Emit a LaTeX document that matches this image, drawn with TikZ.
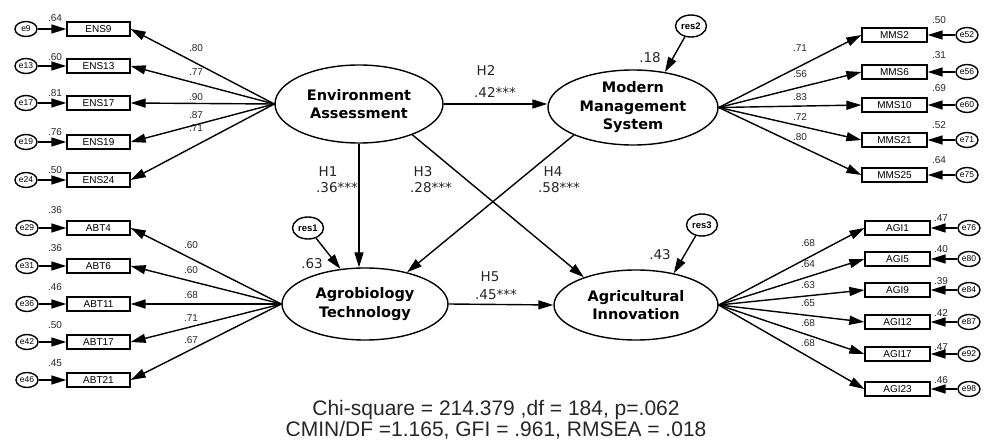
\documentclass[tikz,border=0pt]{standalone}
\usepackage{fontspec}
\setmainfont{Liberation Sans}
\newfontfamily\djv{DejaVu Sans}
\usetikzlibrary{shapes.geometric,arrows.meta}
\begin{document}
\begin{tikzpicture}[x=1pt,y=-1pt,
 lat/.style={ellipse,draw,line width=1.4pt,inner sep=0pt,align=center,font=\djv\bfseries\fontsize{14.5}{18.5}\selectfont},
 ind/.style={rectangle,draw,line width=1.3pt,minimum width=63pt,minimum height=14pt,inner sep=0pt,font=\fontsize{10}{12}\selectfont},
 err/.style={ellipse,draw,line width=1.4pt,minimum width=22pt,minimum height=15pt,inner sep=0pt,font=\fontsize{8.5}{9}\selectfont},
 res/.style={ellipse,draw,line width=1.4pt,minimum width=31pt,minimum height=22pt,inner sep=0pt,font=\bfseries\fontsize{9.5}{10}\selectfont},
 arr/.style={-{Triangle[length=15pt,width=9pt]},line width=1.4pt},
 num/.style={font=\fontsize{10}{11}\selectfont,inner sep=0pt,text=black!85},
 hyp/.style={font=\djv\fontsize{13.5}{15}\selectfont,inner sep=0pt,text=black!85},
]
\useasboundingbox (0,0) rectangle (989,441);

% latent variables
\node[lat,minimum width=168pt,minimum height=78pt] (EA) at (359,104) {Environment\\Assessment};
\node[lat,minimum width=170pt,minimum height=75pt] (MMS) at (633,107.5) {Modern\\Management\\System};
\node[lat,minimum width=166pt,minimum height=72pt] (AT) at (365,304) {Agrobiology\\Technology};
\node[lat,minimum width=164pt,minimum height=70pt] (AI) at (636,305) {Agricultural\\Innovation};

% residuals
\node[res] (res1) at (308,228) {res1};
\node[res] (res2) at (691,26) {res2};
\node[res] (res3) at (702,225) {res3};
\draw[arr] (res1) -- (AT.125);
\draw[arr] (res2) -- (MMS.48);
\draw[arr] (res3) -- (AI.40);
\node[hyp] (r1v) at (312,264) {.63};
\node[hyp] (r2v) at (650,58) {.18};
\node[hyp] (r3v) at (660,255) {.43};

% ENS
\foreach \n/\e/\y/\v/\vy/\l/\ly in {9/9/29/.64/18/.80/48, 13/13/66/.60/57/.77/72, 17/17/103/.81/93/.90/97, 19/19/142/.76/132/.87/115, 24/24/180/.50/170/.71/128} {
  \node[ind] (ENS\n) at (98.5,\y) {ENS\n};
  \node[err] (e\e) at (26,\y) {e\e};
  \draw[arr] (e\e) -- (ENS\n);
  \draw[arr] (EA.west) -- (ENS\n.east);
  \node[num] (vENS\n) at (55,\vy) {\v};
  \node[num] (lENS\n) at (196,\ly) {\l};
}
% ABT
\foreach \n/\e/\y/\v/\vy/\l/\ly in {4/29/228/.36/210/.60/245, 6/31/266/.36/248/.60/270, 11/36/304/.46/287/.68/295, 17/42/342/.50/325/.71/318, 21/46/380/.45/363/.67/340} {
  \node[ind] (ABT\n) at (98.5,\y) {ABT\n};
  \node[err] (e\e) at (27,\y) {e\e};
  \draw[arr] (e\e) -- (ABT\n);
  \draw[arr] (AT.west) -- (ABT\n.east);
  \node[num] (vABT\n) at (55,\vy) {\v};
  \node[num] (lABT\n) at (191,\ly) {\l};
}
% MMS
\foreach \n/\e/\y/\v/\vy/\l/\ly in {2/52/35/.50/20/.71/48, 6/56/72/.31/55/.56/74, 10/60/105/.69/88/.83/97, 21/71/140/.52/125/.72/117, 25/75/175/.64/160/.80/137} {
  \node[ind,minimum width=65pt] (MMS\n) at (894.5,\y) {MMS\n};
  \node[err] (e\e) at (967,\y) {e\e};
  \draw[arr] (e\e) -- (MMS\n);
  \draw[arr] (MMS.east) -- (MMS\n.west);
  \node[num] (vMMS\n) at (939,\vy) {\v};
  \node[num] (lMMS\n) at (800,\ly) {\l};
}
% AGI
\foreach \n/\e/\y/\v/\vy/\l/\ly in {1/76/228/.47/218/.68/243, 5/80/259/.40/249/.64/264, 9/84/290/.39/281/.63/285, 12/87/322/.42/313/.65/303, 17/92/354/.47/347/.68/323, 23/98/389/.46/380/.68/343} {
  \node[ind,minimum width=65pt] (AGI\n) at (897.5,\y) {AGI\n};
  \node[err] (e\e) at (969,\y) {e\e};
  \draw[arr] (e\e) -- (AGI\n);
  \draw[arr] (AI.east) -- (AGI\n.west);
  \node[num] (vAGI\n) at (941,\vy) {\v};
  \node[num] (lAGI\n) at (808,\ly) {\l};
}

% structural paths
\draw[arr] (EA.east) -- (EA.east -| MMS.west);
\draw[arr] (EA.south) -- (EA.south |- AT.north);
\draw[arr] (EA.-30) -- (AI.152);
\draw[arr] (MMS.205) -- (AT.37);
\draw[arr] (AT.east) -- (AI.west);

\node[hyp] (h2a) at (486,70) {H2};
\node[hyp] (h2b) at (495,92) {.42***};
\node[hyp] (h1a) at (328,172) {H1};
\node[hyp] (h1b) at (337,188) {.36***};
\node[hyp] (h3a) at (423,172) {H3};
\node[hyp] (h3b) at (431,188) {.28***};
\node[hyp] (h4a) at (553,172) {H4};
\node[hyp] (h4b) at (559,188) {.58***};
\node[hyp] (h5a) at (490,277) {H5};
\node[hyp] (h5b) at (496,295) {.45***};

% fit indices
\node[align=center,inner sep=0pt,font=\fontsize{21}{21}\selectfont,text=black!85] (fit) at (496,419.5) {Chi-square = 214.379 ,df = 184, p=.062\\CMIN/DF =1.165, GFI = .961, RMSEA = .018};
\end{tikzpicture}
\end{document}
